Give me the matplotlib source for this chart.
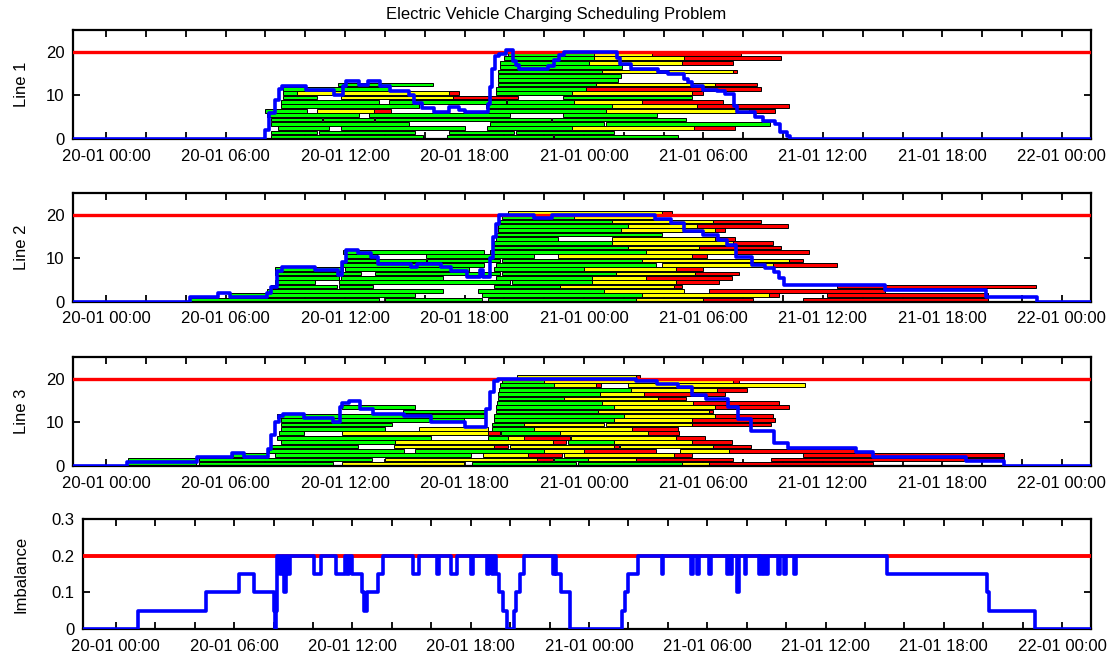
import matplotlib
matplotlib.use("Agg")
import matplotlib.pyplot as plt
from matplotlib.ticker import FixedLocator, FuncFormatter

plt.rcParams['font.family'] = ['Liberation Sans', 'DejaVu Sans']

TITLE = "Electric Vehicle Charging Scheduling Problem"
PANEL_LABELS = ["Line 1", "Line 2", "Line 3", "Imbalance"]
LINE_CAPACITY = 20
IMBALANCE_LIMIT = 0.2
X_RANGE = (-1.68, 49.45)          # hours after 20-01 00:00
TICK_HOURS = list(range(0, 49, 2))
LABEL_HOURS = list(range(0, 49, 6))

# Charging sessions per line: (slot, start, green_end, yellow_end, end) in hours
LINE1_SESSIONS = [
    (0, 8.3, 15.9, 15.9, 15.9), (0, 17.1, 22.45, 22.45, 22.45), (0, 22.5, 28.7, 28.7, 28.7),
    (1, 8.3, 10.6, 10.6, 10.6), (1, 10.7, 15.5, 15.5, 15.5), (1, 17.2, 20.5, 20.5, 20.5), (1, 20.6, 25.5, 25.5, 25.5),
    (2, 8.65, 11.2, 11.2, 11.2), (2, 11.8, 18.0, 18.0, 18.0), (2, 19.15, 23.4, 29.55, 31.6),
    (3, 8.3, 15.2, 15.2, 15.2), (3, 19.3, 25.0, 25.0, 25.0), (3, 25.1, 33.35, 33.35, 33.35),
    (4, 8.3, 10.85, 10.85, 10.85), (4, 10.9, 13.45, 13.45, 13.45), (4, 13.5, 22.35, 22.35, 22.35), (4, 22.4, 29.1, 29.1, 29.1),
    (5, 8.1, 12.7, 12.7, 12.7), (5, 13.2, 20.3, 20.3, 20.3), (5, 22.95, 27.65, 27.65, 27.65),
    (6, 8.0, 10.1, 10.1, 10.1), (6, 10.6, 10.6, 13.45, 14.3), (6, 19.2, 25.1, 32.3, 33.6),
    (7, 8.8, 15.7, 15.7, 15.7), (7, 19.1, 25.4, 29.7, 34.3),
    (8, 8.8, 13.7, 13.7, 13.7), (8, 14.2, 20.1, 20.1, 20.1), (8, 20.15, 23.5, 26.9, 31.0),
    (9, 8.9, 10.6, 10.6, 10.6), (9, 11.8, 11.8, 17.4, 20.7), (9, 22.95, 29.4, 29.4, 29.4),
    (10, 8.9, 9.6, 17.2, 17.7), (10, 19.6, 23.4, 29.4, 30.0),
    (11, 8.9, 14.2, 14.2, 14.2), (11, 19.6, 24.1, 24.1, 32.9),
    (12, 11.65, 16.4, 16.4, 16.4), (12, 19.7, 24.6, 30.6, 32.7),
    (13, 19.7, 25.7, 25.7, 25.7),
    (14, 19.7, 25.85, 25.85, 25.85),
    (15, 19.7, 24.9, 31.5, 31.7),
    (16, 19.8, 25.9, 25.9, 25.9),
    (17, 19.8, 24.25, 28.9, 31.5),
    (18, 20.0, 24.5, 29.0, 33.9),
    (19, 20.2, 24.5, 27.4, 31.9),
]
LINE1_LOAD_T = [-1.7, 8.0, 8.2, 8.5, 8.7, 8.85, 10.05, 11.45, 11.9, 12.05, 12.7, 13.15, 13.75,
                14.25, 15.2, 15.45, 15.85, 16.45, 17.2, 17.7, 18.0, 19.2, 19.3, 19.4, 19.55,
                19.75, 20.1, 20.45, 20.6, 20.75, 22.2, 22.5, 22.75, 23.0, 25.65, 25.8, 26.35,
                27.7, 28.2, 29.0, 29.2, 29.45, 30.0, 30.7, 31.1, 31.55, 31.7, 32.6, 33.0,
                33.6, 33.85, 34.2, 34.35]
LINE1_LOAD_V = [0, 2, 6, 9, 11.5, 12.2, 11.2, 10.1, 12.2, 13.2, 12.3, 13.2, 12.1,
                11.1, 10.1, 8.2, 7.2, 6.2, 7.3, 6.6, 6.1, 8, 12, 16, 19,
                19.6, 20.3, 18.0, 17.0, 16.1, 16.8, 18.2, 19.2, 20.0, 18.5, 17.2, 16.1,
                15.3, 14.8, 13.8, 13.0, 12.1, 11.3, 11.0, 10.4, 7.5, 6.3, 5.1, 4.2,
                3.5, 1.7, 0.6, 0]

LINE2_SESSIONS = [
    (0, 4.2, 13.7, 13.7, 13.7), (0, 14.0, 18.9, 18.9, 18.9), (0, 19.2, 26.6, 30.0, 32.5), (0, 35.0, 35.0, 35.0, 44.3),
    (1, 6.2, 15.5, 15.5, 15.5), (1, 18.9, 26.9, 33.3, 33.8), (1, 36.2, 36.2, 36.2, 44.3),
    (2, 8.1, 16.9, 16.9, 16.9), (2, 18.7, 25.0, 29.0, 29.0), (2, 30.3, 30.3, 30.3, 39.1),
    (3, 8.3, 11.6, 11.6, 11.6), (3, 11.7, 13.4, 13.4, 13.4), (3, 19.5, 22.8, 28.5, 28.9), (3, 36.7, 36.7, 36.7, 46.7),
    (4, 8.5, 10.5, 10.5, 10.5), (4, 11.7, 20.3, 20.3, 20.3), (4, 20.4, 24.4, 28.6, 30.8),
    (5, 8.6, 11.7, 11.7, 11.7), (5, 11.8, 16.9, 16.9, 16.9), (5, 19.6, 24.4, 27.1, 31.45),
    (6, 8.5, 12.8, 12.8, 12.8), (6, 13.5, 19.8, 19.8, 19.8), (6, 19.9, 25.6, 29.6, 31.8),
    (7, 8.5, 11.9, 11.9, 11.9), (7, 12.0, 18.2, 18.2, 18.2), (7, 19.5, 24.0, 28.6, 30.0),
    (8, 11.9, 19.0, 19.0, 19.0), (8, 19.6, 27.6, 27.6, 27.6), (8, 27.9, 27.9, 33.5, 36.7),
    (9, 12.0, 16.05, 16.05, 16.05), (9, 16.1, 19.8, 19.8, 19.8), (9, 19.9, 26.9, 34.3, 35.0),
    (10, 12.0, 13.6, 13.6, 13.6), (10, 16.05, 21.5, 21.5, 21.5), (10, 22.7, 22.7, 29.4, 30.2),
    (11, 11.9, 19.0, 19.0, 19.0), (11, 19.3, 27.1, 31.6, 35.3),
    (12, 19.4, 26.2, 29.8, 33.9),
    (13, 19.5, 25.4, 31.5, 33.5),
    (14, 19.6, 22.7, 22.7, 22.7), (14, 25.4, 25.4, 30.6, 31.6),
    (15, 19.6, 27.9, 27.9, 27.9),
    (16, 19.7, 25.85, 30.6, 31.1),
    (17, 19.7, 26.2, 29.7, 34.25),
    (18, 19.8, 25.4, 30.5, 32.9),
    (19, 19.9, 23.5, 27.5, 27.5),
    (20, 20.2, 20.2, 27.9, 28.4),
]
LINE2_LOAD_T = [-1.7, 4.2, 5.6, 6.2, 8.1, 8.3, 8.6, 8.85, 10.5, 11.65, 11.85, 12.05, 12.65,
                13.3, 13.65, 15.3, 15.6, 16.8, 17.3, 18.1, 18.8, 18.95, 19.3, 19.45, 19.6,
                19.75, 21.5, 22.4, 27.56, 28.38, 29.0, 30.0, 30.73, 31.2, 31.63, 32.44,
                33.08, 33.53, 33.8, 34.07, 39.14, 44.2, 46.73]
LINE2_LOAD_V = [0, 1, 2, 1, 2, 3.5, 7, 8, 7.3, 6.2, 9.2, 12, 11.2,
                10.2, 8.8, 8.0, 8.8, 8.0, 7.0, 5.8, 7.3, 5.8, 10, 15, 18,
                20, 19.2, 20, 19, 18.1, 16.2, 15.4, 14.2, 13.1, 10.4, 8.5,
                7.7, 6.9, 5.4, 3.8, 2.8, 1.0, 0]

LINE3_SESSIONS = [
    (0, 1.04, 4.5, 4.5, 4.5), (0, 4.64, 11.38, 11.38, 11.38), (0, 11.83, 11.83, 17.95, 17.95),
    (0, 18.4, 23.6, 23.6, 23.6), (0, 23.7, 28.9, 30.3, 38.5),
    (1, 1.1, 4.55, 4.55, 4.55), (1, 4.64, 13.36, 13.36, 13.36), (1, 13.99, 13.99, 21.64, 22.45),
    (1, 22.5, 24.2, 26.6, 31.5), (1, 33.4, 33.4, 33.4, 45.1),
    (2, 6.35, 8.15, 8.15, 8.15), (2, 8.5, 18.3, 18.3, 18.3), (2, 18.94, 18.94, 21.19, 22.9),
    (2, 23.0, 23.0, 28.5, 29.4), (2, 35.0, 35.0, 35.0, 45.1),
    (3, 8.18, 14.98, 14.98, 14.98), (3, 15.52, 22.0, 24.0, 27.6), (3, 28.8, 28.8, 31.3, 37.6),
    (4, 8.24, 12.64, 12.64, 12.64), (4, 14.44, 14.44, 19.48, 20.2), (4, 20.29, 20.29, 25.5, 25.75),
    (4, 25.8, 25.8, 30.5, 32.4),
    (5, 8.78, 14.53, 22.45, 23.1), (5, 23.2, 25.5, 29.45, 31.45),
    (6, 8.6, 16.33, 16.33, 16.33), (6, 19.2, 20.2, 21.0, 23.3), (6, 23.35, 23.35, 28.6, 30.1),
    (7, 8.69, 9.95, 9.95, 9.95), (7, 11.83, 11.83, 19.2, 19.8), (7, 19.85, 22.8, 27.2, 28.75),
    (8, 8.78, 13.99, 13.99, 13.99), (8, 15.7, 15.7, 19.2, 19.2), (8, 19.4, 21.5, 26.4, 28.7),
    (9, 8.78, 14.35, 14.35, 14.35), (9, 19.4, 21.0, 25.0, 25.0), (9, 25.1, 25.1, 29.4, 33.4),
    (10, 8.78, 17.95, 17.95, 17.95), (10, 19.5, 25.5, 29.4, 33.6),
    (11, 8.6, 19.03, 19.03, 19.03), (11, 19.5, 26.0, 30.6, 33.5),
    (12, 14.9, 19.03, 19.03, 19.03), (12, 19.6, 24.7, 30.3, 30.5),
    (13, 11.83, 15.52, 15.52, 15.52), (13, 19.6, 25.5, 30.6, 34.3),
    (14, 19.65, 24.9, 29.5, 33.8),
    (15, 19.7, 23.0, 27.7, 29.1),
    (16, 19.7, 24.8, 27.0, 31.1),
    (17, 19.75, 26.35, 30.7, 32.2),
    (18, 19.8, 22.5, 24.6, 24.85), (18, 26.2, 26.2, 35.1, 35.1),
    (19, 19.9, 22.0, 31.5, 31.8),
    (20, 20.65, 20.65, 26.6, 26.8),
]
LINE3_LOAD_T = [-1.7, 1.05, 4.55, 6.3, 6.9, 8.15, 8.3, 8.5, 8.7, 8.87, 9.95, 11.38, 11.75,
                11.85, 12.2, 12.73, 13.4, 14.98, 16.33, 18.0, 19.1, 19.3, 19.5, 19.66,
                26.6, 27.65, 28.7, 29.45, 30.15, 31.25, 31.75, 32.4, 33.55, 34.25, 37.65,
                38.5, 43.2, 45.1]
LINE3_LOAD_V = [0, 1, 2, 3, 2, 4, 7, 10, 11.5, 12, 11, 10, 13.5,
                14.5, 15, 13, 12, 11.5, 10, 9, 13, 17, 19.5, 20,
                19.6, 18.8, 18.1, 16.2, 15.4, 13.5, 10.8, 8.1, 5.2, 4.2, 3.1,
                2.15, 1.1, 0]

IMBALANCE_T = [-1.7, 1.12, 4.56, 6.27, 7.0, 8.0, 8.05, 8.12, 8.2, 8.35, 8.42, 8.55, 8.65,
               8.75, 8.82, 10.07, 10.43, 11.16, 11.6, 11.72, 11.85, 11.98, 12.5, 12.57,
               12.75, 13.3, 13.55, 15.05, 15.4, 16.3, 16.4, 17.0, 17.3, 18.0, 18.1, 18.85,
               18.95, 19.1, 19.2, 19.3, 19.45, 19.65, 19.85, 20.2, 20.3, 20.5, 20.7, 22.2,
               22.3, 22.35, 22.6, 23.05, 25.7, 25.85, 26.0, 26.5,
               27.7, 27.78, 29.2, 29.28, 29.5, 29.58, 30.1, 30.18, 31.0, 31.08, 31.2,
               31.28, 31.5, 31.62, 31.9, 31.98, 32.6, 32.68, 32.8, 32.88, 33.0, 33.08,
               33.6, 33.68, 33.9, 33.98, 34.4, 34.48, 39.1, 44.2, 44.3, 46.65]
IMBALANCE_V = [0, 0.05, 0.1, 0.15, 0.1, 0.05, 0, 0.05, 0.2, 0.15, 0.2, 0.1, 0.2,
               0.15, 0.2, 0.15, 0.2, 0.15, 0.2, 0.15, 0.2, 0.15, 0.1, 0.05,
               0.1, 0.15, 0.2, 0.15, 0.2, 0.15, 0.2, 0.15, 0.2, 0.15, 0.2, 0.15,
               0.2, 0.15, 0.2, 0.15, 0.1, 0.05, 0, 0.05, 0.1, 0.15, 0.2, 0.15,
               0.2, 0.15, 0.1, 0, 0.05, 0.1, 0.15, 0.2,
               0.15, 0.2, 0.15, 0.2, 0.15, 0.2, 0.15, 0.2, 0.15, 0.2, 0.15,
               0.2, 0.1, 0.2, 0.15, 0.2, 0.15, 0.2, 0.15, 0.2, 0.15, 0.2,
               0.15, 0.2, 0.15, 0.2, 0.15, 0.2, 0.15, 0.1, 0.05, 0]

SEG_COLORS = ["#00ff00", "#ffff00", "#ff0000"]

W, H = 1112, 659
fig = plt.figure(figsize=(W / 100, H / 100), dpi=100)


def px_axes(left, right, top, bottom):
    return fig.add_axes([left / W, 1 - bottom / H, (right - left) / W, (bottom - top) / H])


def hour_label(h, _pos=None):
    h = int(round(h))
    if h % 6:
        return ""
    return f"{20 + h // 24:02d}-01 {h % 24:02d}:00"


def style_axes(ax):
    ax.set_xlim(*X_RANGE)
    ax.xaxis.set_major_locator(FixedLocator(TICK_HOURS))
    ax.xaxis.set_major_formatter(FuncFormatter(hour_label))
    ax.tick_params(direction="in", top=True, right=True, length=5, width=1.3,
                   labelsize=12)
    ax.tick_params(axis="x", pad=7)
    ax.tick_params(axis="y", pad=6)
    for s in ax.spines.values():
        s.set_linewidth(1.6)


def step_points(t, v):
    return list(t) + [X_RANGE[1]], list(v) + [v[-1]]


line_boxes = [(30, 139), (193.3, 301.7), (357, 466)]
sessions = [LINE1_SESSIONS, LINE2_SESSIONS, LINE3_SESSIONS]
loads = [(LINE1_LOAD_T, LINE1_LOAD_V), (LINE2_LOAD_T, LINE2_LOAD_V), (LINE3_LOAD_T, LINE3_LOAD_V)]

for (top, bottom), sess, (lt, lv), label in zip(line_boxes, sessions, loads, PANEL_LABELS):
    ax = px_axes(72.7, 1090.7, top, bottom)
    for slot, start, g_end, y_end, end in sess:
        for (a, b), col in zip([(start, g_end), (g_end, y_end), (y_end, end)], SEG_COLORS):
            if b - a > 1e-6:
                ax.barh(slot + 0.5, b - a, left=a, height=0.85, color=col,
                        edgecolor="black", linewidth=0.7, zorder=2)
    ax.axhline(LINE_CAPACITY, color="red", lw=2.4, zorder=3)
    st, sv = step_points(lt, lv)
    ax.step(st, sv, where="post", color="blue", lw=2.6, zorder=4)
    ax.set_ylim(0, 25)
    ax.set_yticks([0, 10, 20])
    style_axes(ax)
    fig.text(21 / W, 1 - (top + bottom) / 2 / H, label, rotation=90,
             ha="center", va="center", fontsize=12)

ax4 = px_axes(82.7, 1090.7, 519, 629)
ax4.axhline(IMBALANCE_LIMIT, color="red", lw=2.8, zorder=3)
it, iv = step_points(IMBALANCE_T, IMBALANCE_V)
ax4.step(it, iv, where="post", color="blue", lw=2.6, zorder=4)
ax4.set_ylim(0, 0.3)
ax4.set_yticks([0, 0.1, 0.2, 0.3])
ax4.set_yticklabels(["0", "0.1", "0.2", "0.3"])
style_axes(ax4)
fig.text(21 / W, 1 - (519 + 629) / 2 / H, PANEL_LABELS[3], rotation=90,
         ha="center", va="center", fontsize=12)

fig.text(0.5, 1 - 14 / H, TITLE, ha="center", va="center", fontsize=12)

fig.savefig("out.png", dpi=100)
